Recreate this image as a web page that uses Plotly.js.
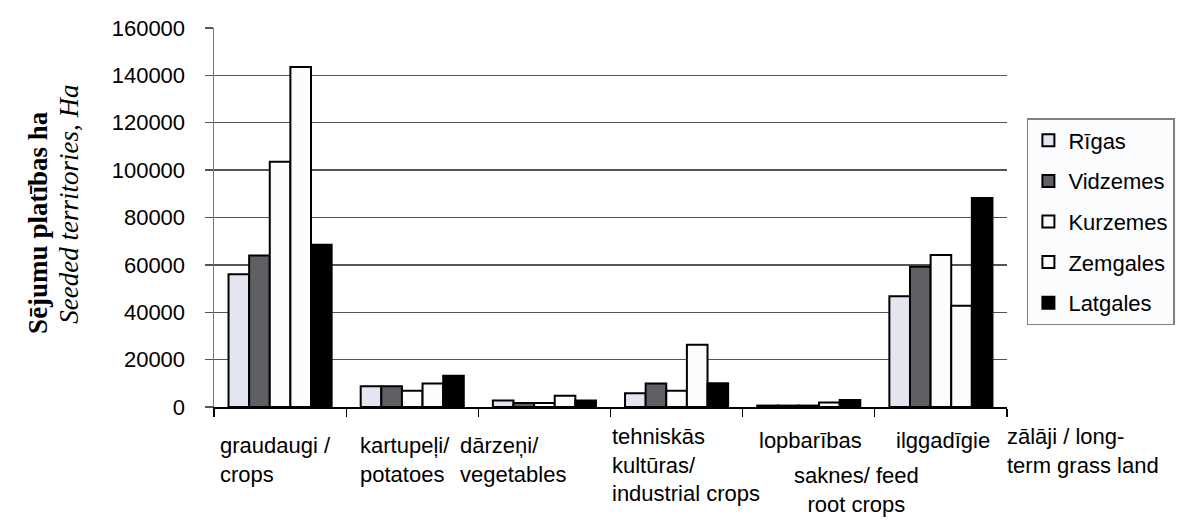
<!DOCTYPE html>
<html>
<head>
<meta charset="utf-8">
<script src="https://cdn.plot.ly/plotly-3.0.1.min.js"></script>
<style>html,body{margin:0;padding:0;background:#fff;overflow:hidden}</style>
</head>
<body>
<div id="chart" style="width:1187px;height:522px"></div>
<script>
// ---- data ----
const categories = [
  'graudaugi / crops',
  'kartupeļi/ potatoes',
  'dārzeņi/ vegetables',
  'tehniskās kultūras/ industrial crops',
  'lopbarības saknes/ feed root crops',
  'ilggadīgie zālāji / long-term grass land'
];
const seriesNames = ['Rīgas', 'Vidzemes', 'Kurzemes', 'Zemgales', 'Latgales'];
const rigas    = [56000,  8800, 2700,  5800,  600, 46800];
const vidzemes = [64000,  8800, 1700,  9900,  600, 59200];
const kurzemes = [103500, 6900, 1700,  6900,  600, 64200];
const zemgales = [143500, 9900, 4800, 26300, 1900, 42700];
const latgales = [68500, 13200, 2700, 10000, 3000, 88200];
const yTickVals = [0, 20000, 40000, 60000, 80000, 100000, 120000, 140000, 160000];
// category label pieces, as they are broken in the picture
const labelBlocks = [
  ['graudaugi /', 'crops'],
  ['kartupeļi/', 'potatoes'],
  ['dārzeņi/', 'vegetables'],
  ['tehniskās', 'kultūras/', 'industrial crops'],
  ['lopbarības'],
  ['saknes/ feed', 'root crops'],
  ['ilggadīgie'],
  ['zālāji / long-', 'term grass land']
];
const yTitleBold = 'Sējumu platības ha';
const yTitleItalic = 'Seeded territories, Ha';

// ---- layout helpers ----
const W = 1187, H = 522, L = 214, R = 1011, T = 28, B = 407;
const px2x = px => (px - L) / (R - L);
const py2y = py => (B - py) / (B - T);
const LABEL_SIZE = 22;
// [left-or-centre x px, top y px, align]
const labelPos = [
  [219, 432, 'left'],
  [360, 432, 'left'],
  [460, 432, 'left'],
  [613, 423, 'left'],
  [761, 427, 'left'],
  [860, 462, 'center'],
  [898, 427, 'left'],
  [1010, 423, 'left']
];
const fills = ['#e3e6f0', '#5e6064', '#fbfcfe', '#fbfcfe', '#000000'];
const values = [rigas, vidzemes, kurzemes, zemgales, latgales];

const traces = values.map((v, i) => ({
  type: 'bar',
  name: seriesNames[i],
  x: categories,
  y: v,
  legendgroup: 'g' + i,
  marker: {color: fills[i], line: {color: '#000', width: 2}},
  hoverinfo: 'skip'
}));

const labelFont = {family: 'Liberation Sans, Arial, sans-serif', size: LABEL_SIZE, color: '#000'};
const annotations = labelBlocks.map((lines, i) => {
  const p = labelPos[i];
  return {
    text: lines.join('<br>'), showarrow: false, xref: 'paper', yref: 'paper',
    x: px2x(p[0]), y: py2y(p[1]),
    xanchor: p[2] === 'center' ? 'center' : 'left', yanchor: 'top', align: p[2],
    font: labelFont, borderpad: 0
  };
});
// y-axis title, two rotated lines
const titleFont = {family: 'Liberation Serif, Times New Roman, serif', size: 27, color: '#000'};
annotations.push({
  text: '<b>' + yTitleBold + '</b>', showarrow: false, xref: 'paper', yref: 'paper',
  x: px2x(37), y: py2y(222), xanchor: 'center', yanchor: 'middle', textangle: -90,
  font: titleFont
});
annotations.push({
  text: '<i>' + yTitleItalic + '</i>', showarrow: false, xref: 'paper', yref: 'paper',
  x: px2x(68), y: py2y(204), xanchor: 'center', yanchor: 'middle', textangle: -90,
  font: titleFont
});

const layout = {
  width: W, height: H,
  margin: {l: L, r: W - R, t: T, b: H - B, pad: 0},
  paper_bgcolor: '#fff', plot_bgcolor: '#fff',
  barmode: 'group', bargap: 0.22, bargroupgap: 0,
  showlegend: true,
  font: {family: 'Liberation Sans, Arial, sans-serif', size: 22, color: '#000'},
  xaxis: {
    type: 'category', showticklabels: false,
    ticks: 'outside', tickson: 'boundaries', ticklen: 8, tickcolor: '#000', tickwidth: 1.3,
    showline: true, linecolor: '#000', linewidth: 1.5,
    showgrid: false, zeroline: false, fixedrange: true
  },
  yaxis: {
    range: [0, 160000], tickvals: yTickVals, ticktext: yTickVals.map(String),
    ticks: 'outside', ticklen: 8, tickcolor: '#555', tickwidth: 1.3,
    ticklabelstandoff: 15,
    tickfont: {family: 'Liberation Sans, Arial, sans-serif', size: 22, color: '#000'},
    showline: true, linecolor: '#777', linewidth: 1.5,
    showgrid: true, gridcolor: '#555', gridwidth: 1.3, zeroline: false,
    fixedrange: true
  },
  legend: {
    x: px2x(1031), y: py2y(118), xanchor: 'left', yanchor: 'top',
    bgcolor: '#fbfcfe', bordercolor: '#808080', borderwidth: 1.5,
    font: {family: 'Liberation Sans, Arial, sans-serif', size: 22, color: '#000'},
    traceorder: 'grouped', tracegroupgap: 9, itemwidth: 30
  },
  annotations: annotations
};

Plotly.newPlot('chart', traces, layout, {displayModeBar: false, staticPlot: true});
</script>
</body>
</html>
